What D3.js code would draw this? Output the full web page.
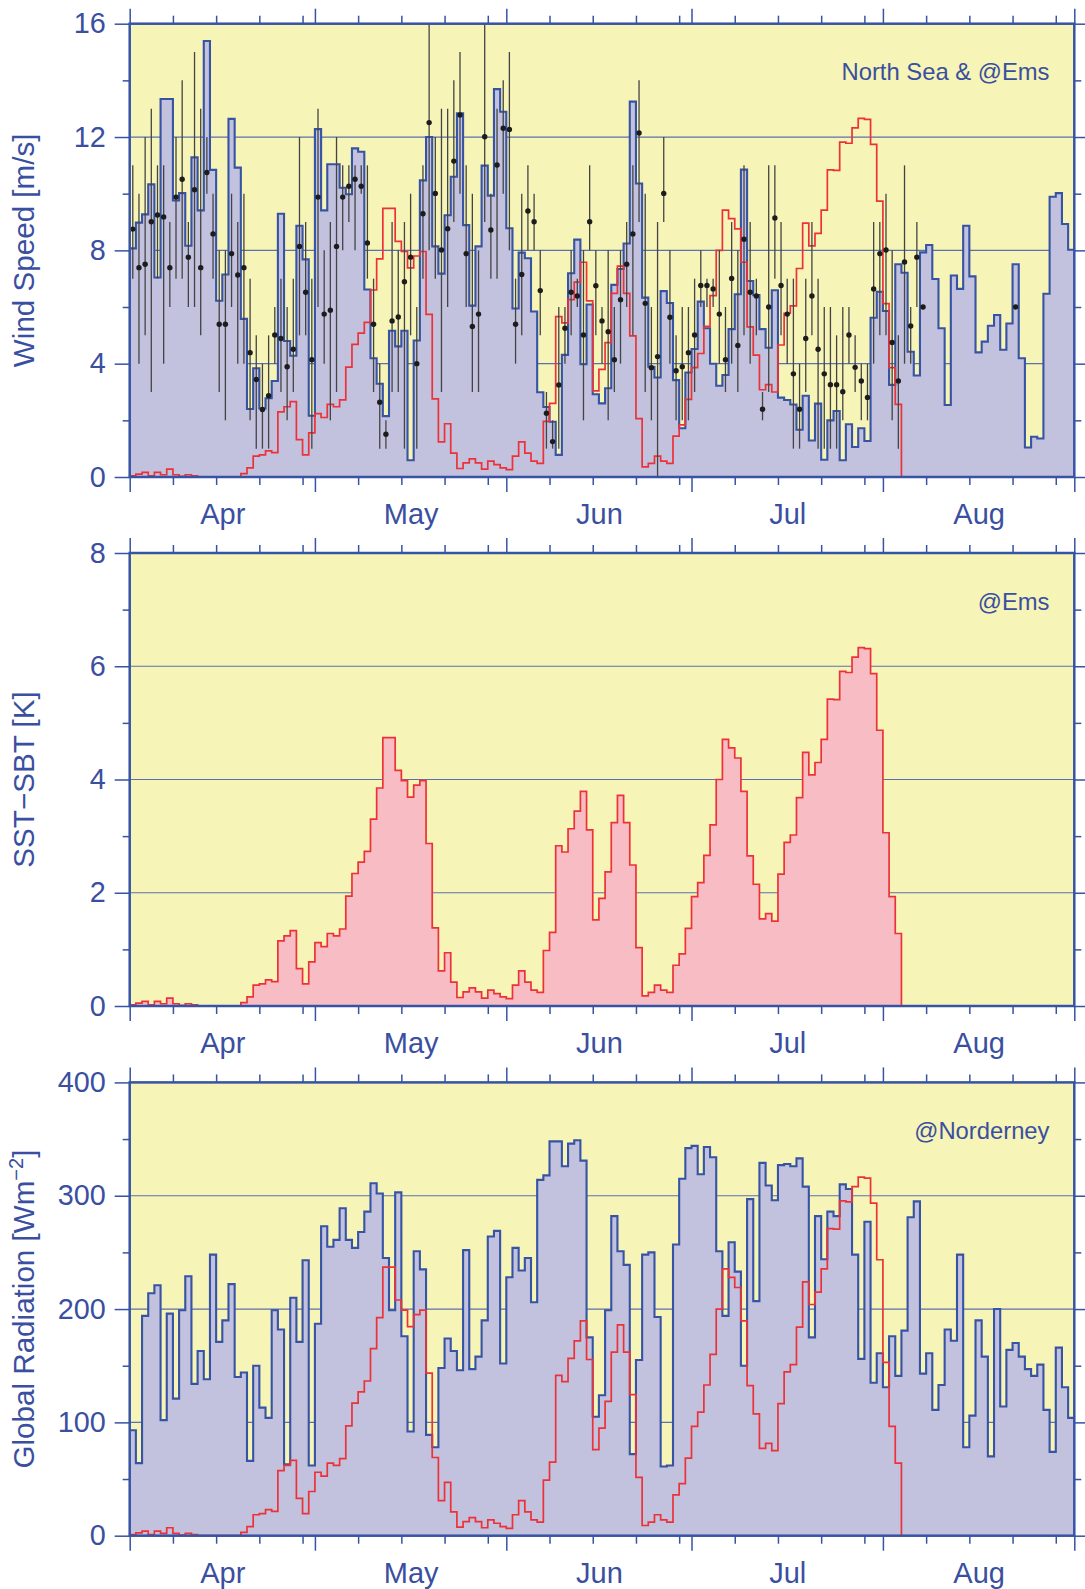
<!DOCTYPE html>
<html>
<head>
<meta charset="utf-8">
<script src="https://cdn.jsdelivr.net/npm/d3@7"></script>
<style>
  html, body { margin: 0; padding: 0; background: #ffffff; }
  svg { display: block; font-family: "Liberation Sans", Arial, Helvetica, sans-serif; }
</style>
</head>
<body>
<svg id="chart" width="1085" height="1589"></svg>
<script>
// ---- daily series, first value = 1 April ----
const startDate = "2018-04-01";
const endDate = "2018-09-01";
const monthNames = ["Apr", "May", "Jun", "Jul", "Aug"];

// daily mean wind speed, North Sea [m/s]
const windSpeed = [
  8.07, 8.98, 9.27, 10.33, 7.04, 13.34, 13.34, 9.76, 10.02, 8.16,
  11.28, 9.41, 15.39, 10.84, 6.22, 7.15, 12.64, 10.92, 5.58, 2.40,
  3.84, 2.42, 2.78, 3.39, 9.29, 4.80, 4.28, 8.87, 7.68, 2.16,
  12.28, 9.41, 11.04, 11.04, 10.21, 9.98, 11.60, 11.48, 6.62, 4.19,
  3.29, 2.15, 5.16, 4.61, 5.16, 0.59, 4.82, 10.47, 12.00, 8.14,
  7.18, 9.24, 10.60, 12.84, 8.89, 6.05, 8.14, 10.99, 9.93, 13.69,
  12.89, 8.78, 5.95, 7.92, 7.72, 5.84, 2.99, 2.47, 1.95, 0.78,
  4.31, 7.19, 8.38, 3.98, 6.09, 2.92, 2.60, 3.13, 6.78, 7.34,
  8.24, 13.25, 10.36, 6.33, 3.89, 3.51, 6.56, 6.14, 3.42, 1.72,
  3.69, 4.52, 6.19, 5.25, 4.00, 3.22, 3.60, 5.22, 6.45, 10.85,
  6.92, 6.42, 5.22, 4.56, 6.59, 2.80, 2.72, 2.56, 1.67, 2.87,
  1.29, 2.59, 0.61, 2.00, 2.33, 0.59, 1.86, 1.06, 1.72, 1.27,
  5.62, 6.54, 5.86, 3.25, 7.51, 7.21, 4.42, 3.58, 7.93, 8.19,
  6.99, 5.25, 2.54, 7.11, 6.64, 8.87, 7.08, 4.40, 4.78, 5.34,
  5.72, 4.49, 5.42, 7.51, 4.19, 1.04, 1.42, 1.36, 6.47, 9.89,
  10.02, 8.93, 8.02
];

// wind at the Ems: daily mean and daily range [m/s] (null = no record)
const emsWind = [
  8.75, 7.39, 7.51, 9.01, 9.25, 9.18, 7.39, 9.88, 10.51, 7.76,
  10.14, 7.39, 10.75, 8.58, 5.39, 5.39, 7.88, 7.13, 7.39, 4.39,
  3.44, 2.38, 2.87, 5.01, 4.89, 3.89, 4.51, 8.14, 6.52, 4.14,
  9.88, 5.75, 5.89, 8.14, 9.88, 10.26, 10.51, 10.26, 8.26, 5.39,
  2.64, 1.51, 5.51, 5.65, 6.89, 7.76, 4.00, 9.29, 12.51, 10.01,
  8.01, 8.76, 11.15, 12.78, 7.88, 5.31, 5.75, 12.01, 8.72, 11.01,
  12.31, 12.27, 5.39, 7.15, 9.39, 9.01, 6.58, 2.25, 1.25, 3.25,
  5.25, 6.52, 6.39, 5.01, 9.01, 6.75, 5.51, 5.13, 4.14, 6.26,
  7.51, 8.58, 12.14, 6.13, 3.86, 4.25, 10.01, 5.64, 3.75, 3.89,
  4.39, 5.01, 6.76, 6.76, 6.64, 5.75, 4.14, 7.01, 4.64, 8.39,
  6.52, 6.39, 2.39, 6.00, 9.14, 6.76, 5.75, 3.64, 2.39, 4.89,
  6.39, 4.51, 3.64, 3.26, 3.26, 3.01, 5.01, 3.87, 3.39, 2.81,
  6.64, 7.88, 8.01, 4.75, 3.39, 7.59, 5.33, 7.76, 6.00, null,
  null, null, null, null, null, null, null, null, null, null,
  null, null, null, 6.00
];
const emsMin = [
  7, 4, 5, 3, 7, 4, 6, 7, 7, 6,
  6, 5, 10, 7, 3, 2, 6, 4, 4, 2,
  1, 1, 1, 4, 3, 2, 3, 5, 5, 1,
  6, 4, 2, 3, 8, 9, 8, 10, 7, 3,
  1, 1, 3, 3, 1, 5, 1, 7, 8, 7,
  3, 6, 9, 10, 6, 3, 3, 9, 7, 7,
  10, 8, 4, 5, 8, 8, 5, 1, 1, 1,
  4, 5, 6, 2, 8, 5, 4, 2, 3, 4,
  6, 5, 9, 3, 2, 0, 9, 4, 2, 2,
  2, 3, 6, 6, 6, 4, 3, 4, 3, 5,
  4, 5, 2, 3, 7, 5, 4, 1, 1, 3,
  5, 1, 1, 1, 1, 2, 4, 3, 2, 2,
  4, 5, 5, 2, 1, 4, 4, 6, 6, null,
  null, null, null, null, null, null, null, null, null, null,
  null, null, null, 6
];
const emsMax = [
  11, 10, 12, 13, 11, 11, 9, 12, 14, 9,
  15, 13, 12, 10, 8, 8, 10, 9, 10, 7,
  5, 4, 5, 6, 7, 6, 7, 12, 9, 7,
  13, 8, 9, 12, 11, 11, 11, 11, 11, 7,
  4, 2, 9, 8, 9, 10, 6, 11, 16, 12,
  13, 13, 14, 15, 11, 10, 8, 16, 10, 13,
  14, 15, 7, 10, 11, 10, 8, 3, 2, 6,
  6, 8, 7, 8, 11, 8, 6, 8, 6, 8,
  9, 11, 14, 10, 6, 9, 12, 8, 5, 6,
  6, 7, 8, 7, 7, 8, 6, 9, 8, 11,
  9, 7, 3, 11, 11, 9, 7, 7, 4, 7,
  9, 7, 6, 6, 5, 6, 6, 5, 4, 4,
  9, 9, 10, 8, 5, 11, 6, 9, 6, null,
  null, null, null, null, null, null, null, null, null, null,
  null, null, null, 6
];

// sea surface minus sea bottom temperature at the Ems [K]
const sstSbt = [
  0.02, 0.05, 0.08, 0.02, 0.08, 0.04, 0.14, 0.04, 0.01, 0.04,
  0.02, 0, 0, 0, 0, 0, 0, 0, 0.06, 0.16,
  0.37, 0.39, 0.46, 0.43, 1.15, 1.24, 1.33, 0.66, 0.39, 0.78,
  1.12, 1.05, 1.28, 1.24, 1.36, 1.94, 2.34, 2.54, 2.73, 3.30,
  3.85, 4.74, 4.74, 4.16, 3.98, 3.69, 3.90, 3.98, 2.87, 1.38,
  0.62, 0.94, 0.42, 0.15, 0.25, 0.32, 0.25, 0.14, 0.28, 0.22,
  0.16, 0.13, 0.37, 0.62, 0.42, 0.28, 0.24, 0.98, 1.30, 2.83,
  2.72, 3.13, 3.44, 3.79, 3.11, 1.52, 1.90, 2.37, 3.24, 3.72,
  3.24, 2.49, 1.03, 0.18, 0.24, 0.37, 0.28, 0.24, 0.72, 0.92,
  1.37, 1.93, 2.18, 2.66, 3.20, 4.00, 4.71, 4.56, 4.38, 3.79,
  2.65, 2.15, 1.54, 1.63, 1.50, 2.33, 2.89, 3.02, 3.68, 4.48,
  4.08, 4.30, 4.71, 5.42, 5.41, 5.91, 5.89, 6.16, 6.33, 6.31,
  5.87, 4.87, 3.06, 1.93, 1.28
];

// daily mean global radiation at Norderney [W m-2]
const radiation = [
  93, 64, 194, 214, 221, 102, 196, 121, 199, 229,
  134, 163, 138, 248, 171, 190, 222, 140, 144, 66,
  150, 113, 104, 199, 182, 63, 210, 171, 243, 62,
  187, 273, 255, 261, 289, 261, 254, 268, 286, 311,
  302, 245, 199, 303, 176, 92, 251, 235, 89, 78,
  148, 174, 163, 146, 252, 147, 158, 190, 264, 269,
  152, 228, 254, 234, 245, 206, 314, 318, 348, 348,
  326, 346, 349, 331, 175, 105, 124, 199, 282, 251,
  239, 72, 155, 248, 250, 193, 61, 62, 257, 315,
  342, 344, 319, 343, 334, 251, 194, 259, 233, 150,
  297, 207, 329, 309, 296, 327, 328, 326, 333, 308,
  175, 282, 244, 286, 282, 310, 306, 248, 156, 277,
  135, 161, 131, 176, 141, 181, 281, 295, 143, 161,
  111, 133, 182, 172, 248, 78, 106, 190, 158, 70,
  200, 114, 164, 170, 158, 147, 141, 151, 111, 74,
  166, 131, 104
];

// ---- styling ----
const C = {
  bg: "#f6f4b6",
  fill: "#c2c1de",
  blue: "#3653a4",
  text: "#3a4f9f",
  grid: "#5d70aa",
  red: "#ec3238",
  pink: "#f8bdc4",
  dot: "#1c1c1c",
  bar: "#444444"
};

const svg = d3.select("#chart");
const parseDay = d3.utcParse("%Y-%m-%d");
const t0 = parseDay(startDate), t1 = parseDay(endDate);
const X0 = 129.7, X1 = 1074.3;
const x = d3.scaleUtc().domain([t0, t1]).range([X0, X1]);
const dayDate = i => d3.utcDay.offset(t0, i);
const dayMid = i => d3.utcHour.offset(t0, i * 24 + 12);

const monthStarts = d3.utcMonth.range(t0, d3.utcDay.offset(t1, 1));
const weekTicks = [];
monthStarts.slice(0, -1).forEach(m => [7, 14, 21, 28].forEach(k => weekTicks.push(d3.utcDay.offset(m, k))));
const monthMids = monthStarts.slice(0, -1).map((m, i) =>
  new Date((m.getTime() + monthStarts[i + 1].getTime()) / 2));

// step points for a daily series: each value holds for one whole day
function stepPts(values, factor) {
  const pts = values.map((v, i) => [dayDate(i), v * factor]);
  pts.push([dayDate(values.length), values[values.length - 1] * factor]);
  return pts;
}

const panels = [
  { top: 23.7, bottom: 477, max: 16, minor: 2, major: 4,
    label: "Wind Speed [m/s]", note: "North Sea & @Ems",
    blue: windSpeed, redFactor: 2, redFill: false, dots: true },
  { top: 553, bottom: 1006, max: 8, minor: 1, major: 2,
    label: "SST\u2212SBT [K]", note: "@Ems",
    blue: null, redFactor: 1, redFill: true, dots: false },
  { top: 1082.4, bottom: 1535.7, max: 400, minor: 50, major: 100,
    label: "Global Radiation [Wm", sup: "\u22122", labelEnd: "]", note: "@Norderney",
    blue: radiation, redFactor: 50, redFill: false, dots: false }
];

function styleAxis(g) {
  g.select(".domain").remove();
  g.selectAll(".tick line").attr("stroke", C.blue).attr("stroke-width", 1.5);
  g.selectAll(".tick text").attr("fill", C.text)
    .attr("font-size", 28.8).attr("font-family", "Liberation Sans, Arial, sans-serif");
}

panels.forEach(p => {
  const y = d3.scaleLinear().domain([0, p.max]).range([p.bottom, p.top]);
  const g = svg.append("g");

  // plot background
  g.append("rect").attr("x", X0).attr("y", p.top)
    .attr("width", X1 - X0).attr("height", p.bottom - p.top).attr("fill", C.bg);

  // horizontal grid at labelled values
  const gridVals = d3.range(p.major, p.max, p.major);
  g.selectAll(null).data(gridVals).join("line")
    .attr("x1", X0).attr("x2", X1)
    .attr("y1", d => y(d)).attr("y2", d => y(d))
    .attr("stroke", C.grid).attr("stroke-width", 1.2);

  // main daily series as filled steps
  if (p.blue) {
    const pts = stepPts(p.blue, 1);
    g.append("path").datum(pts)
      .attr("d", d3.area().curve(d3.curveStepAfter)
        .x(d => x(d[0])).y0(y(0)).y1(d => y(d[1])))
      .attr("fill", C.fill);
    g.append("path").datum(pts)
      .attr("d", d3.line().curve(d3.curveStepAfter).x(d => x(d[0])).y(d => y(d[1])))
      .attr("fill", "none").attr("stroke", C.blue).attr("stroke-width", 2.1)
      .attr("stroke-linejoin", "miter");
  }

  // SST-SBT steps (scaled onto the panel's axis)
  const rpts = [[dayDate(0), 0]].concat(stepPts(sstSbt, p.redFactor));
  rpts.push([dayDate(sstSbt.length), 0]);
  if (p.redFill) {
    g.append("path").datum(rpts)
      .attr("d", d3.area().curve(d3.curveStepAfter)
        .x(d => x(d[0])).y0(y(0)).y1(d => y(d[1])))
      .attr("fill", C.pink);
  }
  g.append("path").datum(rpts)
    .attr("d", d3.line().curve(d3.curveStepAfter).x(d => x(d[0])).y(d => y(d[1])))
    .attr("fill", "none").attr("stroke", C.red).attr("stroke-width", 1.7);

  // Ems wind: daily range bars and mean dots
  if (p.dots) {
    const ems = emsWind.map((v, i) => ({ i, v, lo: emsMin[i], hi: emsMax[i] }))
      .filter(d => d.v !== null);
    g.selectAll(null).data(ems.filter(d => d.hi > d.lo)).join("line")
      .attr("x1", d => x(dayMid(d.i))).attr("x2", d => x(dayMid(d.i)))
      .attr("y1", d => y(d.lo)).attr("y2", d => y(d.hi))
      .attr("stroke", C.bar).attr("stroke-width", 1.3);
    g.selectAll(null).data(ems).join("circle")
      .attr("cx", d => x(dayMid(d.i))).attr("cy", d => y(d.v))
      .attr("r", 2.7).attr("fill", C.dot);
  }

  // axes: left/right value ticks, top/bottom month and week ticks
  const majorVals = d3.range(0, p.max + p.minor / 2, p.major);
  const minorVals = d3.range(0, p.max + p.minor / 2, p.minor).filter(v => v % p.major !== 0);

  g.append("g").attr("transform", `translate(${X0},0)`)
    .call(d3.axisLeft(y).tickValues(majorVals).tickSize(15).tickPadding(9).tickFormat(d3.format("d")))
    .call(a => styleAxis(a));
  g.append("g").attr("transform", `translate(${X0},0)`)
    .call(d3.axisLeft(y).tickValues(minorVals).tickSize(7).tickFormat(""))
    .call(a => styleAxis(a));
  g.append("g").attr("transform", `translate(${X1},0)`)
    .call(d3.axisRight(y).tickValues(majorVals).tickSize(15).tickFormat(""))
    .call(a => styleAxis(a));
  g.append("g").attr("transform", `translate(${X1},0)`)
    .call(d3.axisRight(y).tickValues(minorVals).tickSize(7).tickFormat(""))
    .call(a => styleAxis(a));

  [["top", p.top, d3.axisTop], ["bottom", p.bottom, d3.axisBottom]].forEach(([side, yy, ax]) => {
    g.append("g").attr("transform", `translate(0,${yy})`)
      .call(ax(x).tickValues(monthStarts).tickSize(15).tickFormat(""))
      .call(a => styleAxis(a));
    g.append("g").attr("transform", `translate(0,${yy})`)
      .call(ax(x).tickValues(weekTicks).tickSize(8).tickFormat(""))
      .call(a => styleAxis(a));
  });

  // month names centred in each month
  g.append("g").attr("transform", `translate(0,${p.bottom})`)
    .call(d3.axisBottom(x).tickValues(monthMids).tickSize(0)
      .tickFormat((d, i) => monthNames[i]))
    .call(a => {
      a.select(".domain").remove();
      a.selectAll(".tick text").attr("dy", null).attr("y", 47)
        .attr("fill", C.text).attr("font-size", 29)
        .attr("font-family", "Liberation Sans, Arial, sans-serif");
    });

  // frame
  g.append("rect").attr("x", X0).attr("y", p.top)
    .attr("width", X1 - X0).attr("height", p.bottom - p.top)
    .attr("fill", "none").attr("stroke", C.blue).attr("stroke-width", 2.5);

  // axis title
  const t = g.append("text")
    .attr("transform", `translate(33.5,${(p.top + p.bottom) / 2}) rotate(-90)`)
    .attr("text-anchor", "middle").attr("fill", C.text).attr("font-size", 29.6)
    .text(p.label);
  if (p.sup) {
    t.append("tspan").attr("dy", -11).attr("font-size", 20).text(p.sup);
    t.append("tspan").attr("dy", 11).text(p.labelEnd);
  }

  // location note
  g.append("text").attr("x", 1049.5).attr("y", p.top + 56.5)
    .attr("text-anchor", "end").attr("fill", C.text).attr("font-size", 23.8)
    .text(p.note);
});
</script>
</body>
</html>
